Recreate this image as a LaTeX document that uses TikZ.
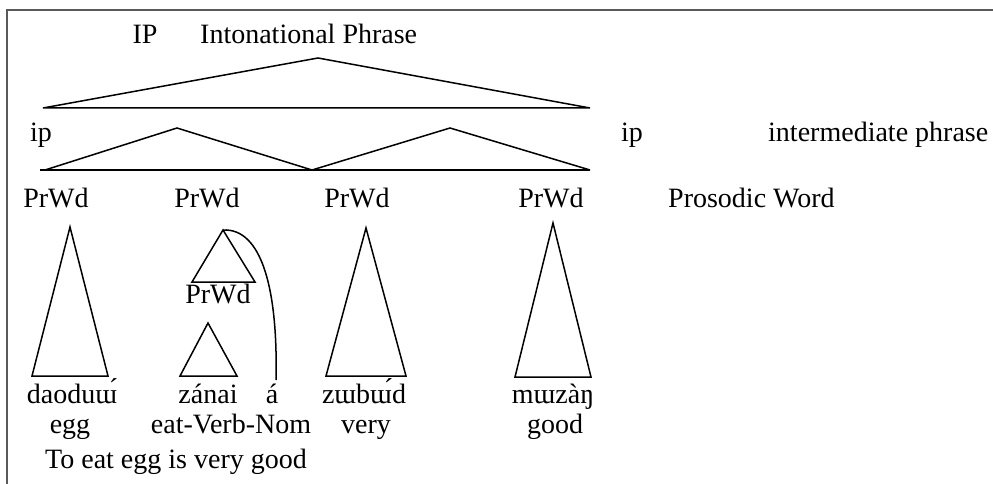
\documentclass[tikz,border=0pt]{standalone}
\usepackage{fontspec}
\setmainfont{Liberation Serif}
\begin{document}
\begin{tikzpicture}[x=1pt,y=-1pt,
  lbl/.style={anchor=base,inner sep=0pt,font=\fontsize{28}{30}\selectfont},
  lbll/.style={lbl,anchor=base west},
  tri/.style={draw=black,line width=1.5pt,line join=miter},
  frame/.style={draw=black!65,line width=2pt}]
\useasboundingbox (0,0) rectangle (993,484);
% frame
\coordinate (fa) at (7,484);
\coordinate (fb) at (7,10);
\coordinate (fc) at (993,10);
\draw[frame] (fa) -- (fb) -- (fc);
% top labels
\node[lbl] (IP) at (145,44) {IP};
\node[lbll] (IPt) at (200,44) {Intonational Phrase};
\node[lbll] (ip1) at (30,142) {ip};
\node[lbll] (ip2) at (621,142) {ip};
\node[lbll] (ipt) at (768,142) {intermediate phrase};
% IP triangle
\coordinate (Ia) at (318,58);
\coordinate (Il) at (43,108);
\coordinate (Ir) at (590,108);
\draw[tri] (Il) -- (Ia) -- (Ir) -- cycle;
% ip triangles
\coordinate (b0) at (40,170);
\coordinate (l1) at (45,170);
\coordinate (a1) at (177,128);
\coordinate (m) at (312,170);
\coordinate (a2) at (450,128);
\coordinate (r2) at (590,170);
\draw[tri] (b0) -- (r2);
\draw[tri] (l1) -- (a1) -- (m) -- (a2) -- (r2);
% PrWd row
\node[lbl] (p1) at (56,207) {PrWd};
\node[lbl] (p2) at (207,207) {PrWd};
\node[lbl] (p3) at (357,207) {PrWd};
\node[lbl] (p4) at (551,207) {PrWd};
\node[lbll] (pt) at (668,207) {Prosodic Word};
% tall triangles
\coordinate (t1a) at (70,227);
\coordinate (t1l) at (32,376);
\coordinate (t1r) at (108,376);
\draw[tri] (t1l) -- (t1a) -- (t1r) -- cycle;
\coordinate (t3a) at (366,228);
\coordinate (t3l) at (326,376);
\coordinate (t3r) at (406,376);
\draw[tri] (t3l) -- (t3a) -- (t3r) -- cycle;
\coordinate (t4a) at (553,223);
\coordinate (t4l) at (515,377);
\coordinate (t4r) at (591,377);
\draw[tri] (t4l) -- (t4a) -- (t4r) -- cycle;
% compound word
\coordinate (s1a) at (223,230);
\coordinate (s1l) at (192,282);
\coordinate (s1r) at (255,282);
\draw[tri] (s1l) -- (s1a) -- (s1r) -- cycle;
\node[lbl] (p5) at (218,303) {PrWd};
\coordinate (s2a) at (208,323);
\coordinate (s2l) at (180,376);
\coordinate (s2r) at (237,376);
\draw[tri] (s2l) -- (s2a) -- (s2r) -- cycle;
\coordinate (ce) at (276,380);
\draw[tri] (s1a) .. controls (262,228) and (278,290) .. (ce);
% words
\node[lbl] (w1) at (72,403) {daoduɯ́};
\node[lbl] (w2) at (208,403) {zánai};
\node[lbl] (w3) at (272,403) {á};
\node[lbl] (w4) at (364,403) {zɯbɯ́d};
\node[lbl] (w5) at (553,403) {mɯzàŋ};
% glosses
\node[lbl] (g1) at (70,433) {egg};
\node[lbl] (g2) at (231,433) {eat-Verb-Nom};
\node[lbl] (g3) at (366,433) {very};
\node[lbl] (g4) at (555,433) {good};
\node[lbll] (tr) at (45,468) {To eat egg is very good};
\end{tikzpicture}
\end{document}
